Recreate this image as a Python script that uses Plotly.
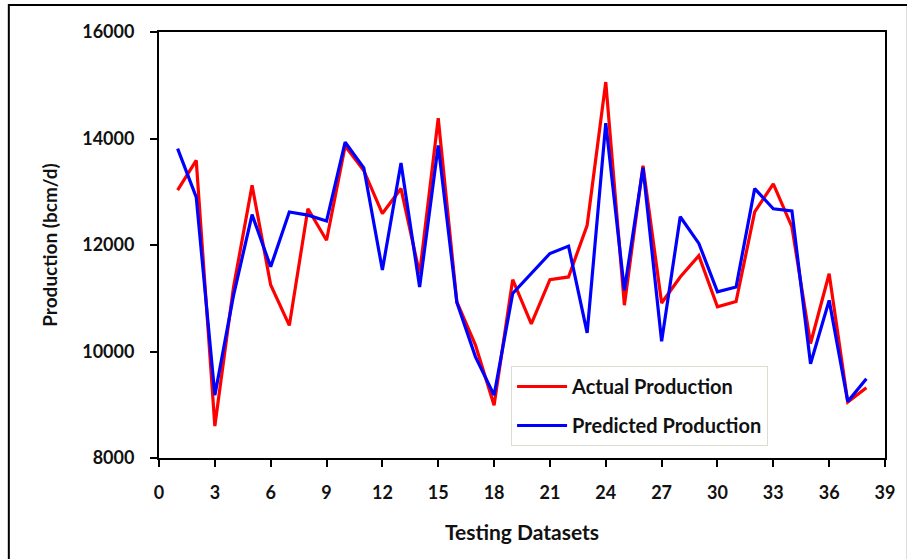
import plotly.graph_objects as go

datasets = list(range(1, 39))
actual = [13030, 13590, 8600, 11200, 13120, 11250, 10490, 12680, 12090, 13860,
          13400, 12590, 13060, 11460, 14380, 10930, 10120, 8990, 11350, 10520,
          11350, 11400, 12370, 15060, 10870, 13490, 10910, 11400, 11800, 10840,
          10940, 12620, 13150, 12340, 10150, 11460, 9050, 9320]
predicted = [13810, 12900, 9180, 11050, 12570, 11590, 12620, 12560, 12450, 13930,
             13450, 11530, 13540, 11210, 13870, 10920, 9900, 9180, 11090, 11460,
             11840, 11980, 10350, 14290, 11150, 13450, 10190, 12530, 12030, 11120,
             11210, 13060, 12680, 12640, 9770, 10960, 9060, 9490]
x_ticks = list(range(0, 40, 3))
y_ticks = [8000, 10000, 12000, 14000, 16000]

FONT = "Lato"
fig = go.Figure()
fig.add_trace(go.Scatter(x=datasets, y=actual, mode="lines", name="Actual Production",
                         line=dict(color="#FF0000", width=3.2), legendgroup="a"))
fig.add_trace(go.Scatter(x=datasets, y=predicted, mode="lines", name="Predicted Production",
                         line=dict(color="#0000FF", width=3.2), legendgroup="b"))

L, R, T, B = 159, 18, 32, 101
W, H = 907, 559
pw, ph = W - L - R, H - T - B

fig.update_layout(
    width=W, height=H,
    margin=dict(l=L, r=R, t=T, b=B),
    paper_bgcolor="white", plot_bgcolor="white",
    font=dict(family=FONT, color="#111111"),
    showlegend=True,
    legend=dict(x=(513 - L) / pw, y=(H - B - 366) / ph, xanchor="left", yanchor="top",
                bordercolor="#dcdcd0", borderwidth=1, bgcolor="white",
                font=dict(family=FONT, size=20, color="#111111", weight="bold"),
                tracegroupgap=10, traceorder="grouped", itemwidth=50),
    xaxis=dict(range=[0, 39], tickvals=x_ticks, showgrid=False, zeroline=False,
               showline=True, linecolor="black", linewidth=2, mirror=True,
               ticks="outside", ticklen=7, tickwidth=2, tickcolor="black",
               ticklabelstandoff=10,
               tickfont=dict(family=FONT, size=18, weight="bold"),
               title=dict(text="Testing Datasets", font=dict(family=FONT, size=21, weight="bold"), standoff=24)),
    yaxis=dict(range=[8000, 16000], tickvals=y_ticks, tickformat="d", showgrid=False, zeroline=False,
               showline=True, linecolor="black", linewidth=2, mirror=True,
               ticks="outside", ticklen=7, tickwidth=2, tickcolor="black",
               ticklabelstandoff=12,
               tickfont=dict(family=FONT, size=18, weight="bold"),
               title=dict(text="Production (bcm/d)", font=dict(family=FONT, size=19, weight="bold"), standoff=20)),
)

fig.add_shape(type="rect", xref="paper", yref="paper",
              x0=(8 - L) / pw, x1=(W + 5 - L) / pw,
              y0=(H - B - (H + 5)) / ph, y1=(H - B - 5) / ph,
              line=dict(color="black", width=2), layer="below")

fig.write_html("out.html")
